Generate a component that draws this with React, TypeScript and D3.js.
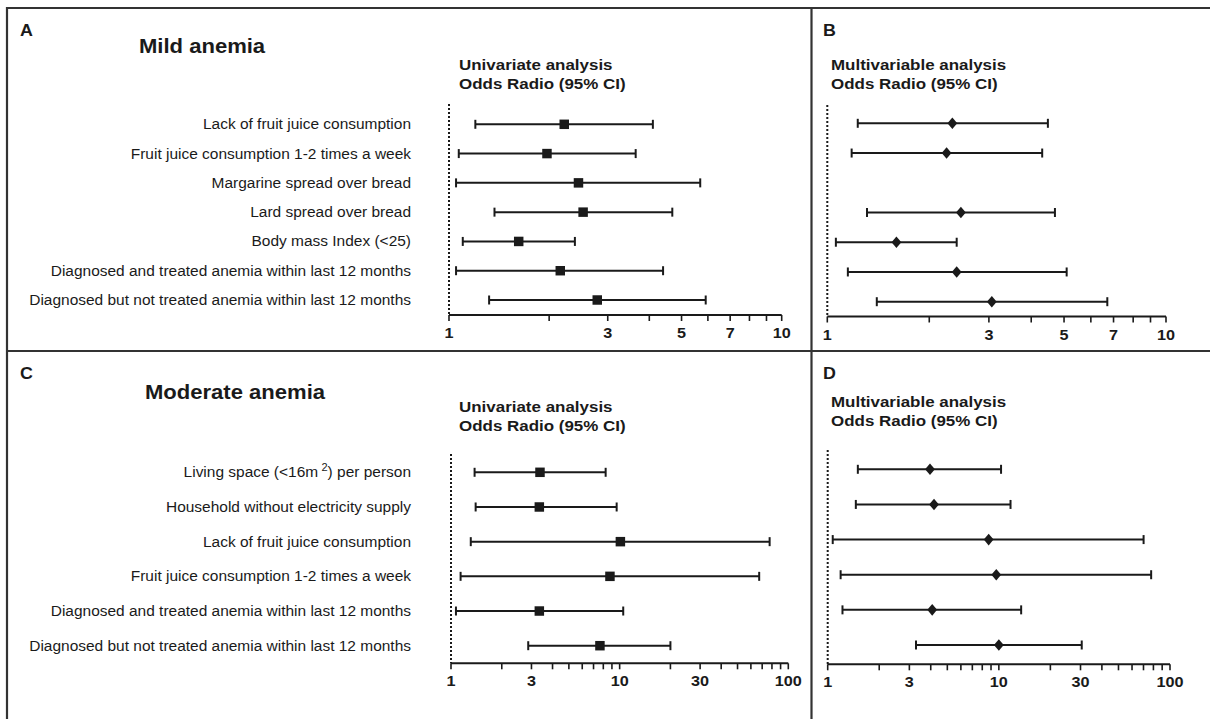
import React from 'react';
import * as d3 from 'd3';

// ---------- data ----------
const mildLabels = [
  'Lack of fruit juice consumption',
  'Fruit juice consumption 1-2 times a week',
  'Margarine spread over bread',
  'Lard spread over bread',
  'Body mass Index (<25)',
  'Diagnosed and treated anemia within last 12 months',
  'Diagnosed but not treated anemia within last 12 months',
];
const mildUniOR = [2.22, 1.97, 2.45, 2.53, 1.62, 2.16, 2.79];
const mildUniLow = [1.2, 1.07, 1.05, 1.37, 1.1, 1.05, 1.32];
const mildUniHigh = [4.1, 3.64, 5.69, 4.69, 2.39, 4.4, 5.91];
const mildMultiOR = [2.34, 2.25, null, 2.48, 1.6, 2.41, 3.06];
const mildMultiLow = [1.23, 1.18, null, 1.31, 1.06, 1.15, 1.4];
const mildMultiHigh = [4.48, 4.31, null, 4.7, 2.41, 5.09, 6.71];

const modLabels = [
  'Living space (<16m|2|) per person',
  'Household without electricity supply',
  'Lack of fruit juice consumption',
  'Fruit juice consumption 1-2 times a week',
  'Diagnosed and treated anemia within last 12 months',
  'Diagnosed but not treated anemia within last 12 months',
];
const modUniOR = [3.37, 3.34, 10.1, 8.76, 3.34, 7.64];
const modUniLow = [1.38, 1.4, 1.31, 1.14, 1.07, 2.87];
const modUniHigh = [8.26, 9.6, 77.5, 67.2, 10.5, 20.0];
const modMultiOR = [3.96, 4.18, 8.72, 9.66, 4.08, 10.0];
const modMultiLow = [1.5, 1.46, 1.07, 1.19, 1.22, 3.28];
const modMultiHigh = [10.3, 11.7, 70.1, 77.6, 13.5, 30.5];

const ticksTen = [1, 2, 3, 4, 5, 6, 7, 8, 9, 10];
const ticksTenLabels = [1, 3, 5, 7, 10];
const ticksHundred = [1, 2, 3, 4, 5, 6, 7, 8, 9, 10, 20, 30, 40, 50, 60, 70, 80, 90, 100];
const ticksHundredLabels = [1, 3, 10, 30, 100];

const uniHeader = ['Univariate analysis', 'Odds Radio (95% CI)'];
const multiHeader = ['Multivariable analysis', 'Odds Radio (95% CI)'];

// ---------- style ----------
const FONT = '"Liberation Sans", Arial, Helvetica, sans-serif';
const INK = '#1a1a1a';

type PanelProps = {
  xRange: [number, number];
  maxV: number;
  axisY: number;
  rowRange: [number, number];
  dotTop: number;
  ors: (number | null)[];
  lows: (number | null)[];
  highs: (number | null)[];
  ticks: number[];
  tickLabels: number[];
  marker: 'square' | 'diamond';
};

function Panel(p: PanelProps) {
  const x = d3.scaleLog().domain([1, p.maxV]).range(p.xRange);
  const y = d3
    .scalePoint<number>()
    .domain(d3.range(p.ors.length))
    .range(p.rowRange);
  const cap = 4.5;
  const sq = d3.symbol().type(d3.symbolSquare).size(90)();
  const diamond = 'M0,-5.8L4.9,0L0,5.8L-4.9,0Z';
  return (
    <g>
      <line
        x1={x(1)}
        x2={x(1)}
        y1={p.dotTop}
        y2={p.axisY}
        stroke={INK}
        strokeWidth={2}
        strokeDasharray="2,2"
      />
      <line x1={p.xRange[0]} x2={p.xRange[1]} y1={p.axisY} y2={p.axisY} stroke={INK} strokeWidth={2} />
      {p.ticks.map((t) => (
        <line key={t} x1={x(t)} x2={x(t)} y1={p.axisY} y2={p.axisY + 6} stroke={INK} strokeWidth={1.6} />
      ))}
      {p.tickLabels.map((t) => (
        <text
          key={'l' + t}
          transform={`translate(${x(t)},${p.axisY + 23}) scale(1.08,1)`}
          textAnchor="middle"
          fontFamily={FONT}
          fontWeight="bold"
          fontSize={15}
          fill={INK}
        >
          {t}
        </text>
      ))}
      {p.ors.map((or, i) => {
        if (or == null) return null;
        const yy = y(i) as number;
        const lo = x(p.lows[i] as number);
        const hi = x(p.highs[i] as number);
        return (
          <g key={i}>
            <line x1={lo} x2={hi} y1={yy} y2={yy} stroke={INK} strokeWidth={2} />
            <line x1={lo} x2={lo} y1={yy - cap} y2={yy + cap} stroke={INK} strokeWidth={2} />
            <line x1={hi} x2={hi} y1={yy - cap} y2={yy + cap} stroke={INK} strokeWidth={2} />
            <path d={p.marker === 'square' ? sq : diamond} transform={`translate(${x(or)},${yy})`} fill={INK} />
          </g>
        );
      })}
    </g>
  );
}

function Labels({ labels, rowRange, right }: { labels: string[]; rowRange: [number, number]; right: number }) {
  const y = d3.scalePoint<number>().domain(d3.range(labels.length)).range(rowRange);
  return (
    <g>
      {labels.map((l, i) => {
        const parts = l.split('|');
        return (
          <text
            key={i}
            transform={`translate(${right},${(y(i) as number) + 5}) scale(1.105,1)`}
            textAnchor="end"
            fontFamily={FONT}
            fontSize={14}
            fill={INK}
          >
            {parts.length === 3 ? (
              <>
                {parts[0]}
                <tspan dx={3} dy={-6} fontSize={10}>
                  {parts[1]}
                </tspan>
                <tspan dy={6}>{parts[2]}</tspan>
              </>
            ) : (
              l
            )}
          </text>
        );
      })}
    </g>
  );
}

function Header({ lines, x, y }: { lines: string[]; x: number; y: number }) {
  return (
    <g>
      {lines.map((l, i) => (
        <text
          key={i}
          transform={`translate(${x},${y + i * 19}) scale(1.13,1)`}
          fontFamily={FONT}
          fontWeight="bold"
          fontSize={15}
          fill={INK}
        >
          {l}
        </text>
      ))}
    </g>
  );
}

function BigText({ t, x, y, size, sx }: { t: string; x: number; y: number; size: number; sx: number }) {
  return (
    <text
      transform={`translate(${x},${y}) scale(${sx},1)`}
      fontFamily={FONT}
      fontWeight="bold"
      fontSize={size}
      fill={INK}
    >
      {t}
    </text>
  );
}

export default function App() {
  return (
    <svg
      width={1210}
      height={719}
      style={{ position: 'absolute', left: 0, top: 0, background: '#fff' }}
    >
      <rect x={0} y={0} width={1210} height={719} fill="#fff" />
      {/* frame */}
      <line x1={7} x2={1210} y1={8} y2={8} stroke="#333" strokeWidth={2.2} />
      <line x1={7} x2={7} y1={7} y2={719} stroke="#333" strokeWidth={2.2} />
      <line x1={811.5} x2={811.5} y1={8} y2={719} stroke="#333" strokeWidth={2.2} />
      <line x1={7} x2={1210} y1={351} y2={351} stroke="#333" strokeWidth={2.2} />

      {/* panel letters and titles */}
      <BigText t="A" x={20} y={35.5} size={17} sx={1.05} />
      <BigText t="B" x={823} y={35.5} size={17} sx={1.05} />
      <BigText t="C" x={20} y={378.5} size={17} sx={1.05} />
      <BigText t="D" x={823} y={378.5} size={17} sx={1.05} />
      <BigText t="Mild anemia" x={139} y={53} size={21} sx={1.05} />
      <BigText t="Moderate anemia" x={145} y={399} size={21} sx={1.05} />

      <Header lines={uniHeader} x={459} y={70} />
      <Header lines={multiHeader} x={831} y={70} />
      <Header lines={uniHeader} x={459} y={411.5} />
      <Header lines={multiHeader} x={831} y={407} />

      <Labels labels={mildLabels} rowRange={[124.3, 300]} right={411} />
      <Labels labels={modLabels} rowRange={[472.3, 645.7]} right={411} />

      <Panel
        xRange={[449, 781.7]}
        maxV={10}
        axisY={315}
        rowRange={[124.3, 300]}
        dotTop={104}
        ors={mildUniOR}
        lows={mildUniLow}
        highs={mildUniHigh}
        ticks={ticksTen}
        tickLabels={ticksTenLabels}
        marker="square"
      />
      <Panel
        xRange={[827.3, 1166]}
        maxV={10}
        axisY={316.5}
        rowRange={[123.3, 301.7]}
        dotTop={105}
        ors={mildMultiOR}
        lows={mildMultiLow}
        highs={mildMultiHigh}
        ticks={ticksTen}
        tickLabels={ticksTenLabels}
        marker="diamond"
      />
      <Panel
        xRange={[451, 788.3]}
        maxV={100}
        axisY={663.3}
        rowRange={[472.3, 645.7]}
        dotTop={454}
        ors={modUniOR}
        lows={modUniLow}
        highs={modUniHigh}
        ticks={ticksHundred}
        tickLabels={ticksHundredLabels}
        marker="square"
      />
      <Panel
        xRange={[827.7, 1170]}
        maxV={100}
        axisY={664.3}
        rowRange={[469.3, 645]}
        dotTop={450}
        ors={modMultiOR}
        lows={modMultiLow}
        highs={modMultiHigh}
        ticks={ticksHundred}
        tickLabels={ticksHundredLabels}
        marker="diamond"
      />
    </svg>
  );
}
